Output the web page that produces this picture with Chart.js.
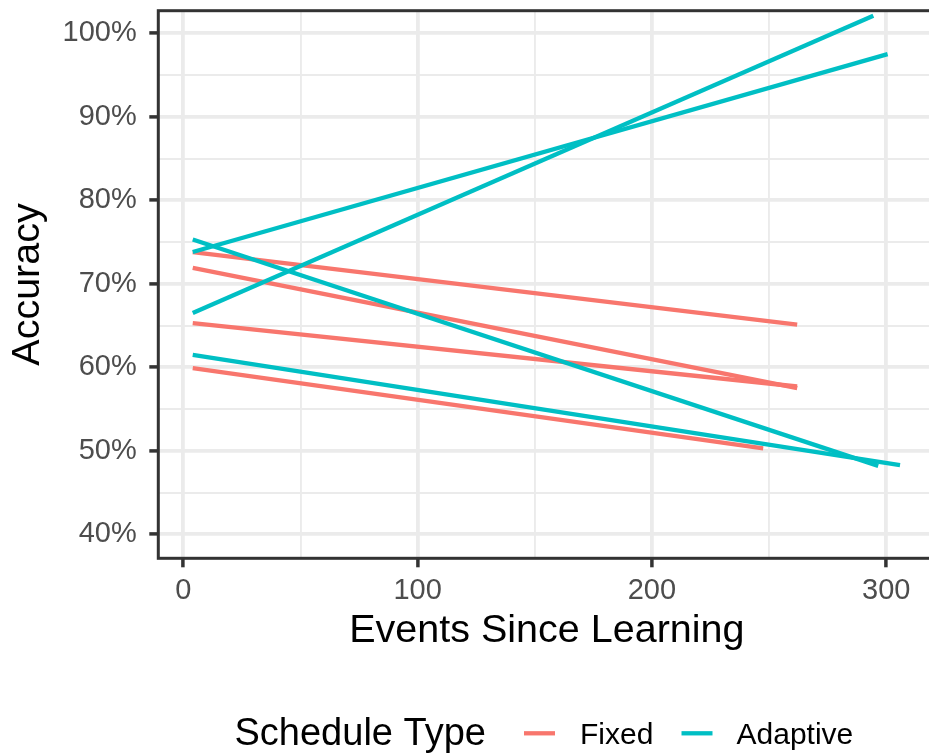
<!DOCTYPE html>
<html>
<head>
<meta charset="utf-8">
<title>Accuracy by Events Since Learning</title>
<script src="https://cdn.jsdelivr.net/npm/chart.js@4.4.1/dist/chart.umd.min.js"></script>
<style>
  html, body { margin: 0; padding: 0; background: #ffffff; overflow: hidden; }
  #wrap { width: 929px; height: 754px; overflow: hidden; position: relative; }
  canvas { display: block; }
</style>
</head>
<body>
<div id="wrap"><canvas id="chart" width="950" height="754"></canvas></div>
<script>
// Schedule types and their colours
const scheduleTypes = ['Fixed', 'Adaptive'];
const scheduleColors = ['#F8766D', '#00BFC4'];

// Fitted trend lines: [start, end] for each learner group
const fixedX    = [[4, 262],    [4, 262],    [4, 262],    [4, 247.5]];
const fixedY    = [[73.8, 65.1], [71.9, 57.5], [65.3, 57.7], [59.9, 50.3]];
const adaptiveX = [[4, 300.6],  [4, 296.6],  [4, 294.5],  [4, 305.9]];
const adaptiveY = [[73.8, 97.5], [75.3, 48.2], [66.5, 102.1], [61.5, 48.3]];

// Axis ticks (majors are labelled, minors only get a thin grid line)
const xTickValues = [0, 50, 100, 150, 200, 250, 300];
const xMajorTicks = [0, 100, 200, 300];
const yTickValues = [40, 45, 50, 55, 60, 65, 70, 75, 80, 85, 90, 95, 100];
const yMajorTicks = [40, 50, 60, 70, 80, 90, 100];

const FONT = '"Liberation Sans", Arial, Helvetica, sans-serif';
const GRID = '#EBEBEB';
const DARK = '#333333';
const LINE_W = 4.3;

function buildSeries(xs, ys, color, order) {
  return xs.map((xPair, i) => ({
    data: xPair.map((x, j) => ({ x: x, y: ys[i][j] })),
    borderColor: color,
    backgroundColor: color,
    borderWidth: LINE_W,
    pointRadius: 0,
    showLine: true,
    fill: false,
    order: order
  }));
}

const datasets = [
  ...buildSeries(fixedX, fixedY, scheduleColors[0], 2),
  ...buildSeries(adaptiveX, adaptiveY, scheduleColors[1], 1)
];

function zeroPadding(scale) {
  scale.paddingLeft = 0;
  scale.paddingRight = 0;
  scale.paddingTop = 0;
  scale.paddingBottom = 0;
}

// Panel border drawn on top of the lines
const panelBorder = {
  id: 'panelBorder',
  afterDatasetsDraw(chart) {
    const { ctx, chartArea: a } = chart;
    ctx.save();
    ctx.strokeStyle = DARK;
    ctx.lineWidth = 3;
    ctx.strokeRect(a.left, a.top, a.right - a.left, a.bottom - a.top);
    ctx.restore();
  }
};

// Horizontal legend with its title on the left
const bottomLegend = {
  id: 'bottomLegend',
  afterDraw(chart) {
    const ctx = chart.ctx;
    ctx.save();
    ctx.fillStyle = '#000000';
    ctx.textBaseline = 'alphabetic';
    ctx.textAlign = 'left';
    ctx.font = '38px ' + FONT;
    ctx.fillText('Schedule Type', 234.5, 745);
    const keyStarts = [524, 681.5];
    const labelStarts = [580, 736.5];
    scheduleTypes.forEach((name, i) => {
      ctx.strokeStyle = scheduleColors[i];
      ctx.lineWidth = LINE_W;
      ctx.beginPath();
      ctx.moveTo(keyStarts[i], 733.3);
      ctx.lineTo(keyStarts[i] + 31, 733.3);
      ctx.stroke();
      ctx.fillStyle = '#000000';
      ctx.font = '30px ' + FONT;
      ctx.fillText(name, labelStarts[i], 744.3);
    });
    ctx.restore();
  }
};

new Chart(document.getElementById('chart'), {
  type: 'scatter',
  data: { datasets: datasets },
  plugins: [panelBorder, bottomLegend],
  options: {
    responsive: false,
    animation: false,
    devicePixelRatio: 1,
    layout: { padding: { top: 10.7, right: 14.6, bottom: 99, left: 0 } },
    plugins: {
      legend: { display: false },
      tooltip: { enabled: false }
    },
    scales: {
      x: {
        type: 'linear',
        min: -10.7,
        max: 321,
        afterBuildTicks(scale) {
          scale.ticks = xTickValues.map(v => ({ value: v }));
        },
        afterFit(scale) {
          scale.height = 96.7;
          zeroPadding(scale);
        },
        border: { display: false },
        grid: {
          color: GRID,
          lineWidth: c => xMajorTicks.includes(c.tick.value) ? 3.8 : 1.9,
          tickColor: c => xMajorTicks.includes(c.tick.value) ? DARK : 'rgba(0,0,0,0)',
          tickWidth: 3.5,
          tickLength: 9,
          drawTicks: true
        },
        ticks: {
          autoSkip: false,
          maxRotation: 0,
          padding: 6.5,
          color: '#4D4D4D',
          font: { family: FONT, size: 29 },
          callback: v => xMajorTicks.includes(v) ? String(v) : ''
        },
        title: {
          display: true,
          text: 'Events Since Learning',
          color: '#000000',
          font: { family: FONT, size: 39.5, lineHeight: 1.2 },
          padding: { top: 0, bottom: 0 }
        }
      },
      y: {
        type: 'linear',
        min: 37.13,
        max: 102.7,
        afterBuildTicks(scale) {
          scale.ticks = yTickValues.map(v => ({ value: v }));
        },
        afterFit(scale) {
          scale.width = 158.3;
          zeroPadding(scale);
        },
        border: { display: false },
        grid: {
          color: GRID,
          lineWidth: c => yMajorTicks.includes(c.tick.value) ? 3.8 : 1.9,
          tickColor: c => yMajorTicks.includes(c.tick.value) ? DARK : 'rgba(0,0,0,0)',
          tickWidth: 3.5,
          tickLength: 9,
          drawTicks: true
        },
        ticks: {
          autoSkip: false,
          padding: 12.6,
          color: '#4D4D4D',
          font: { family: FONT, size: 29 },
          callback: v => yMajorTicks.includes(v) ? v + '%' : ''
        },
        title: {
          display: true,
          text: 'Accuracy',
          color: '#000000',
          font: { family: FONT, size: 39.5, lineHeight: 1.2 },
          padding: { top: 4.6, bottom: 0 }
        }
      }
    }
  }
});
</script>
</body>
</html>
